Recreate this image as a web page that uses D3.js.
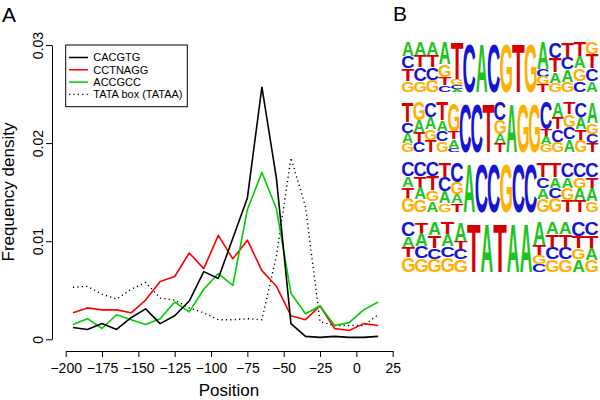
<!DOCTYPE html>
<html><head><meta charset="utf-8">
<script src="https://cdn.jsdelivr.net/npm/d3@7"></script>
<style>
body{margin:0;background:#fff}
svg{display:block}
text{font-family:"Liberation Sans",Arial,Helvetica,sans-serif}
</style>
</head><body>
<svg id="c" width="600" height="400"></svg>
<script>
// ---------- Panel A data ----------
const positions = [-195,-185,-175,-165,-155,-145,-135,-125,-115,-105,-95,-85,-75,-65,-55,-45,-35,-25,-15,-5,5,15];
const seriesNames = ["CACGTG","CCTNAGG","ACCGCC","TATA box (TATAA)"];
const cacgtg  = [0.0012,0.0010,0.0016,0.0010,0.0022,0.0031,0.0016,0.0024,0.0039,0.0069,0.0062,0.0103,0.0144,0.0257,0.0164,0.0016,0.0003,0.0002,0.0003,0.0002,0.0002,0.0003];
const cctnagg = [0.0027,0.0032,0.0030,0.0030,0.0027,0.0040,0.0059,0.0064,0.0088,0.0072,0.0106,0.0082,0.0101,0.0070,0.0054,0.0024,0.0020,0.0034,0.0011,0.0009,0.0016,0.0014];
const accgcc  = [0.0015,0.0021,0.0011,0.0025,0.0020,0.0015,0.0021,0.0038,0.0028,0.0051,0.0067,0.0055,0.0132,0.0170,0.0133,0.0047,0.0026,0.0034,0.0014,0.0017,0.0030,0.0038];
const tatabox = [0.0053,0.0054,0.0046,0.0041,0.0051,0.0058,0.0042,0.0040,0.0032,0.0027,0.0020,0.0020,0.0021,0.0020,0.0085,0.0185,0.0135,0.0018,0.0014,0.0014,0.0014,0.0025];
const seriesColors = ["#000000","#ff0000","#00cd00","#000000"];
const seriesDash = [null,null,null,"1.2,3.2"];
const xTicks = [-200,-175,-150,-125,-100,-75,-50,-25,0,25];
const yTicks = [0,0.01,0.02,0.03];
const yTickLabels = ["0","0.01","0.02","0.03"];

// ---------- Panel B data (sequence logos, columns listed top -> bottom, letter + percent) ----------
const logoCACGTG = [
 "A28 C25 T25 G22","A26 T25 C27 G22","A26 T25 C25 G24","A45 G25 T16 C14","T75 G12 C8 A5",
 "C100","A100","C100","G100","T100","G100",
 "A55 C15 G15 T15","C32 T28 A22 G18","T30 C25 A25 G20","T28 A25 G25 C22","G25 T28 C25 A22"];
const logoCCTNAGG = [
 "T40 C22 A20 G18","G36 A24 T20 C20","C30 A25 G22 T23","T36 A22 C20 G22","G60 T15 A17 C8",
 "C100","C100","T100","C36 G28 A18 T18","A100","G100","G100",
 "C55 T15 A15 G15","A30 T25 C25 G20","T25 G25 C25 A25","C30 A25 T22 G23","A42 G22 C18 T18"];
const logoACCGCC = [
 "C28 A22 T22 G28","C28 T22 A25 G25","C28 T28 G22 A22","T30 C28 A25 G17","C40 G25 A18 T17",
 "A100","C100","C100","G100","C100","C100",
 "T30 C22 A22 G26","T30 A22 C20 G28","C30 A22 G24 T24","C30 G22 A24 T24","C30 T22 A26 G22"];
const logoTATAA = [
 "C28 A22 T20 G30","T22 A26 C25 G27","A27 T25 C22 G26","T25 A23 C22 G30","A40 T15 C20 G25",
 "T100","A100","T100","A100","A100",
 "A47 T20 G18 C15","A25 T25 C25 G25","A25 T25 C25 G25","C28 T25 G22 A25","C27 T25 A25 G23"];
const logos = [logoCACGTG, logoCCTNAGG, logoACCGCC, logoTATAA];
const baseColors = {A:"#1ec41e", C:"#1414d2", G:"#ffb000", T:"#d70000"};

const svg = d3.select("#c");

// ---------- Panel A ----------
const x = d3.scaleLinear().domain([-200,25]).range([65.7,392.7]);
const y = d3.scaleLinear().domain([0,0.03]).range([339.3,45]);

const gx = svg.append("g").attr("transform","translate(0,351)")
  .call(d3.axisBottom(x).tickValues(xTicks).tickSize(6).tickSizeOuter(0).tickPadding(6));
gx.selectAll("text").attr("font-size",14).attr("font-family","Liberation Sans, Arial, sans-serif").attr("fill","#000");
gx.selectAll("line,path").attr("stroke","#000");

const gy = svg.append("g").attr("transform","translate(52,0)")
  .call(d3.axisLeft(y).tickValues(yTicks).tickFormat((d,i)=>yTickLabels[i]).tickSize(6).tickSizeOuter(0));
gy.selectAll("line,path").attr("stroke","#000");
gy.selectAll("text").attr("x",null).attr("dy",null)
  .attr("text-anchor","middle").attr("transform","translate(-9,0) rotate(-90)")
  .attr("font-size",14).attr("font-family","Liberation Sans, Arial, sans-serif").attr("fill","#000");

svg.append("text").attr("x",229).attr("y",396).attr("text-anchor","middle")
  .attr("font-size",17).text("Position");
svg.append("text").attr("transform","translate(14,192) rotate(-90)").attr("text-anchor","middle")
  .attr("font-size",17).text("Frequency density");
svg.append("text").attr("x",2).attr("y",22).attr("font-size",21).text("A");
svg.append("text").attr("x",393).attr("y",21).attr("font-size",21).text("B");

const allSeries = [cacgtg, cctnagg, accgcc, tatabox];
const line = d3.line().x((d,i)=>x(positions[i])).y(d=>y(d));
// draw order: dotted, red, green, black
[3,1,2,0].forEach(k=>{
  svg.append("path").datum(allSeries[k])
    .attr("d",line).attr("fill","none")
    .attr("stroke",seriesColors[k]).attr("stroke-width",k===3?1.4:1.6)
    .attr("stroke-linejoin","round")
    .attr("stroke-dasharray",seriesDash[k]);
});

// legend
const lg = svg.append("g");
lg.append("rect").attr("x",65.7).attr("y",45).attr("width",121.6).attr("height",61.7)
  .attr("fill","#fff").attr("stroke","#000").attr("stroke-width",1);
const ly = d3.scalePoint().domain(seriesNames).range([57.5,94.4]);
seriesNames.forEach((n,k)=>{
  lg.append("line").attr("x1",69).attr("x2",88).attr("y1",ly(n)).attr("y2",ly(n))
    .attr("stroke",seriesColors[k]).attr("stroke-width",k===3?1.2:1.5)
    .attr("stroke-dasharray",seriesDash[k]);
  lg.append("text").attr("x",93.3).attr("y",ly(n)).attr("dy","0.36em")
    .attr("font-size",11).text(n);
});

// ---------- Panel B : sequence logos ----------
const rowBand = d3.scaleBand().domain(d3.range(logos.length)).range([42,271.5]).paddingInner(0.175);
const ink = {A:[0.0,0.722],C:[0.045,0.69],G:[0.045,0.728],T:[0.02,0.592]};
const capH = 0.716;
logos.forEach((cols,r)=>{
  const colBand = d3.scaleBand().domain(d3.range(cols.length)).range([402,598]).paddingInner(0.03);
  const h = d3.scaleLinear().domain([0,1]).range([0,rowBand.bandwidth()]);
  const top = rowBand(r);
  cols.forEach((spec,c)=>{
    const items = spec.split(" ").map(s=>({b:s[0], f:+s.slice(1)/100}));
    let yy = top;
    const w = colBand.bandwidth();
    items.forEach(it=>{
      const hh = h(it.f);
      const [l0,l1] = ink[it.b];
      const sx = w/((l1-l0)*100), sy = hh/(capH*100);
      svg.append("text")
        .attr("transform",`translate(${colBand(c)-l0*100*sx},${yy+hh}) scale(${sx},${sy})`)
        .attr("font-size",100).attr("font-weight","bold")
        .attr("fill",baseColors[it.b]).text(it.b);
      yy += hh;
    });
  });
});
</script>
</body></html>
